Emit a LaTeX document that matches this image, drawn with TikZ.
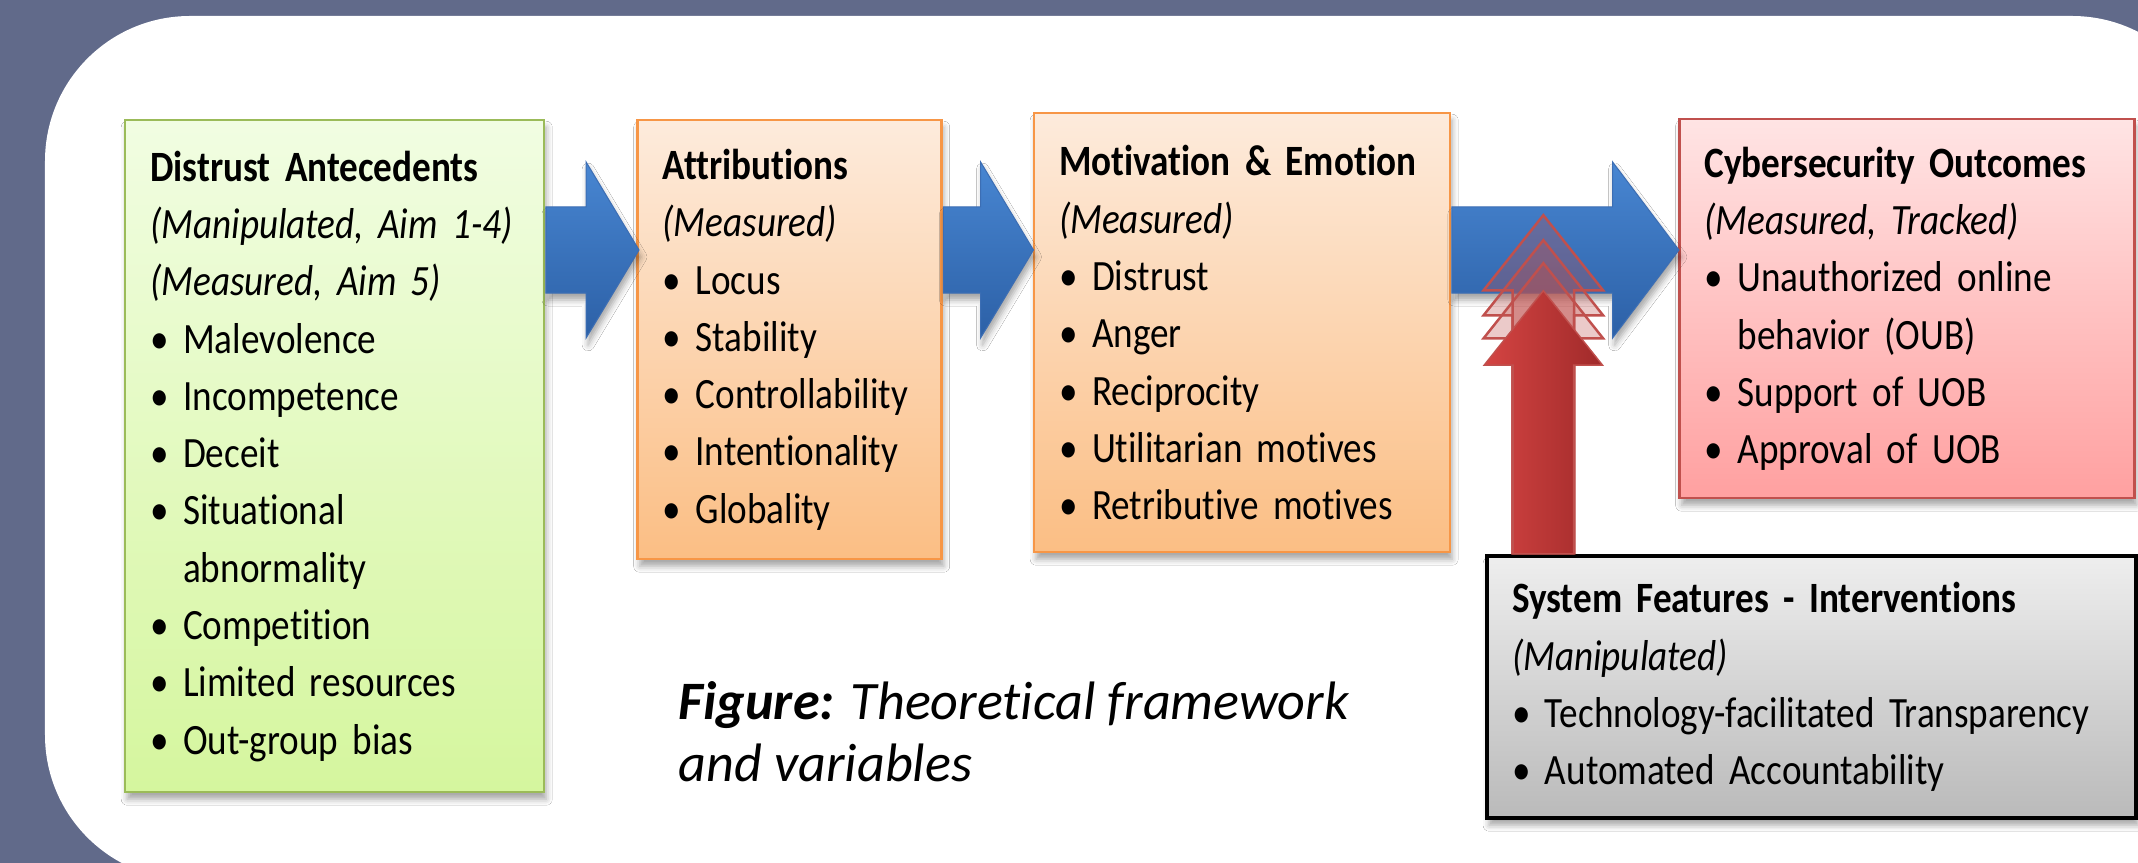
\documentclass[tikz,border=0pt]{standalone}
\usepackage{fontspec}
\setmainfont{Carlito}[FakeStretch=0.86, Ligatures=NoCommon]
\newfontfamily\captionfont{Carlito}[Ligatures=NoCommon]
\usepackage{tikz}
\usetikzlibrary{shapes, arrows, positioning, shadows, shadows.blur}

% box text: narrow Calibri-like face with tight word spaces
\newcommand{\cardfont}{\fontsize{12.3}{16.3}\selectfont\spaceskip=2.4pt plus 1pt minus 0.5pt\relax}

\definecolor{slate}{RGB}{97,106,138}
\definecolor{leafline}{RGB}{155,187,89}
\definecolor{leaftop}{RGB}{241,253,226}
\definecolor{leafbot}{RGB}{213,246,158}
\definecolor{peachline}{RGB}{247,150,70}
\definecolor{peachtop}{RGB}{253,235,220}
\definecolor{peachbot}{RGB}{251,190,132}
\definecolor{roseline}{RGB}{192,80,77}
\definecolor{rosetop}{RGB}{255,228,228}
\definecolor{rosebot}{RGB}{255,160,160}
\definecolor{greytop}{RGB}{238,238,238}
\definecolor{greybot}{RGB}{186,186,186}
\definecolor{flowtop}{RGB}{72,134,210}
\definecolor{flowbot}{RGB}{44,96,166}
\definecolor{flowline}{RGB}{60,110,180}
\definecolor{pushleft}{RGB}{212,68,66}
\definecolor{pushright}{RGB}{160,42,42}

\tikzset{
  softshadow/.style={blur shadow={shadow xshift=0.02cm, shadow yshift=-0.07cm, shadow blur radius=0.06cm, shadow opacity=35}},
}

\begin{document}
\begin{tikzpicture}
    \tikzstyle{card} = [rectangle, font=\cardfont, align=left, inner xsep=0.25cm, inner ysep=0pt, line width=0.7pt, softshadow]
    \tikzstyle{greenbox} = [card, draw=leafline, top color=leaftop, bottom color=leafbot]
    \tikzstyle{peachbox} = [card, draw=peachline, top color=peachtop, bottom color=peachbot]
    \tikzstyle{rosebox} = [card, draw=roseline, top color=rosetop, bottom color=rosebot]
    \tikzstyle{greybox} = [card, draw=black, line width=1pt, top color=greytop, bottom color=greybot]
    \tikzstyle{flowarrow} = [single arrow, single arrow head extend=0.45cm, single arrow tip angle=118, inner xsep=0pt, inner ysep=0.425cm, anchor=west, draw=flowline, line width=0.3pt, top color=flowtop, bottom color=flowbot, softshadow]
    \tikzstyle{pusharrow} = [single arrow, rotate=90, anchor=west, single arrow head extend=0.29cm, single arrow tip angle=77, inner xsep=0pt, inner ysep=0.295cm, draw=roseline, line width=0.4pt, left color=pushleft, right color=pushright]
    \tikzstyle{echoarrow} = [single arrow, rotate=90, anchor=west, single arrow head extend=0.29cm, single arrow tip angle=77, inner xsep=0pt, inner ysep=0.295cm, draw=roseline, line width=0.7pt, fill=roseline, fill opacity=0.3]
    % slide background and white panel
    \useasboundingbox (0,0) rectangle (21.38,8.63);
    \clip (0,0) rectangle (21.38,8.63);
    \fill[slate] (0,0) rectangle (21.38,8.63);
    \fill[white, rounded corners=1.45cm] (0.45,8.47) rectangle (22.17,-0.17);
    \coordinate (flow) at (0,6.13);
    % the four stages
    \node (antec) [greenbox, text width=3.69cm, minimum height=6.72cm, anchor=north west] at (1.24,7.44) {\textbf{Distrust Antecedents}\\
      \textit{(Manipulated, Aim 1-4)}\\
      \textit{(Measured, Aim 5)}\\
      \textbullet\ Malevolence\\
      \textbullet\ Incompetence\\
      \textbullet\ Deceit\\
      \textbullet\ Situational\\
      \phantom{\textbullet\ }abnormality\\
      \textbullet\ Competition\\
      \textbullet\ Limited resources\\
      \textbullet\ Out-group bias};
    \node (attrib) [peachbox, text width=2.54cm, minimum height=4.39cm, right=0.91cm of antec.north east, anchor=north west] {\textbf{Attributions}\\
      \textit{(Measured)}\\
      \textbullet\ Locus\\
      \textbullet\ Stability\\
      \textbullet\ Controllability\\
      \textbullet\ Intentionality\\
      \textbullet\ Globality};
    \node (motive) [peachbox, text width=3.66cm, minimum height=4.39cm, right=0.90cm of attrib.north east, anchor=north west, yshift=0.07cm] {\textbf{Motivation \& Emotion}\\
      \textit{(Measured)}\\
      \textbullet\ Distrust\\
      \textbullet\ Anger\\
      \textbullet\ Reciprocity\\
      \textbullet\ Utilitarian motives\\
      \textbullet\ Retributive motives};
    \node (outcome) [rosebox, text width=4.05cm, minimum height=3.79cm, right=2.27cm of motive.north east, anchor=north west, yshift=-0.06cm] {\textbf{Cybersecurity Outcomes}\\
      \textit{(Measured, Tracked)}\\
      \textbullet\ Unauthorized online\\
      \phantom{\textbullet\ }behavior (OUB)\\
      \textbullet\ Support of UOB\\
      \textbullet\ Approval of UOB};
    \node (sysfeat) [greybox, text width=5.99cm, minimum height=2.62cm, below=0.55cm of outcome.south east, anchor=north east, xshift=0.02cm] {\textbf{System Features - Interventions}\\
      \textit{(Manipulated)}\\
      \textbullet\ Technology-facilitated Transparency\\
      \textbullet\ Automated Accountability};
    % block arrows between the stages
    \node (stepA) [flowarrow, minimum height=0.93cm] at (antec.east |- flow) {};
    \node (stepB) [flowarrow, minimum height=0.90cm] at (attrib.east |- flow) {};
    \node (stepC) [flowarrow, minimum height=2.27cm, single arrow tip angle=106] at (motive.east |- flow) {};
    % interventions pushing into the last arrow
    \coordinate (pushbase) at ([xshift=0.58cm]sysfeat.north west);
    \node (echoA) [echoarrow, minimum height=3.38cm] at (pushbase) {};
    \node (echoB) [echoarrow, minimum height=3.13cm] at (pushbase) {};
    \node (echoC) [echoarrow, minimum height=2.90cm] at (pushbase) {};
    \node (push) [pusharrow, minimum height=2.63cm] at (pushbase) {};
    \node (caption) [anchor=north west, inner sep=0pt, align=left, font=\captionfont\itshape\fontsize{15.4}{17.6}\selectfont] at (6.78,1.82) {\textbf{Figure:} Theoretical framework\\and variables};
\end{tikzpicture}
\end{document}
